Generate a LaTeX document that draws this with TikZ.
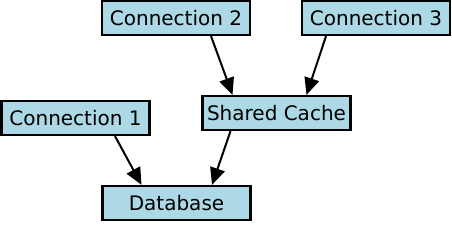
\documentclass[tikz,border=0pt]{standalone}
\usepackage{fontspec}
\setmainfont{DejaVu Sans}
\usetikzlibrary{arrows.meta}
\definecolor{boxfill}{RGB}{173,216,230}
\tikzset{
  box/.style={draw=black, fill=boxfill, line width=2.2pt, rectangle,
    minimum width=148pt, minimum height=34pt, inner sep=0pt,
    font=\fontsize{20}{24}\selectfont},
  conn/.style={line width=2pt, -{Triangle[length=17pt,width=15pt]}}
}
\begin{document}
\begin{tikzpicture}[x=1pt,y=-1pt]
\useasboundingbox (0,0) rectangle (452,227);
\node[box] (c2) at (176,18) {Connection 2};
\node[box] (c3) at (376,18) {Connection 3};
\node[box] (c1) at (75.5,118) {Connection 1};
\node[box] (sc) at (276.5,113) {Shared Cache};
\node[box] (db) at (176.5,203) {Database};
\draw[conn] ([xshift=35pt]c2.south) -- ([xshift=-44pt]sc.north);
\draw[conn] ([xshift=-50pt]c3.south) -- ([xshift=30pt]sc.north);
\draw[conn] ([xshift=39.5pt]c1.south) -- ([xshift=-35pt]db.north);
\draw[conn] ([xshift=-46pt]sc.south) -- ([xshift=35.5pt]db.north);
\end{tikzpicture}
\end{document}
